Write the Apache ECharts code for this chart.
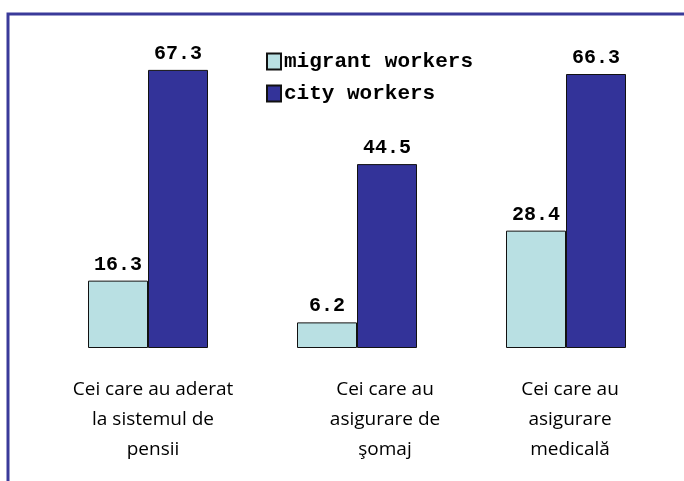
<!DOCTYPE html>
<html>
<head>
<meta charset="utf-8">
<script src="https://cdn.jsdelivr.net/npm/echarts@6/dist/echarts.min.js"></script>
<style>
  html, body { margin: 0; padding: 0; background: #fff; }
  #main { width: 684px; height: 481px; }
</style>
</head>
<body>
<div id="main"></div>
<script>
var categories = ['Cei care au aderat\nla sistemul de\npensii', 'Cei care au\nasigurare de\nşomaj', 'Cei care au\nasigurare\nmedicală'];
var migrantWorkers = [16.3, 6.2, 28.4];
var cityWorkers = [67.3, 44.5, 66.3];

var chart = echarts.init(document.getElementById('main'));

// eticheta din mijloc e mutata putin la dreapta, ca in original
var labelStyles = ['c0', 'c1', 'c2'];

var option = {
  animation: false,
  backgroundColor: '#fff',
  graphic: [{
    type: 'rect',
    shape: { x: 8, y: 14, width: 700, height: 500 },
    style: { fill: 'none', stroke: '#3a3a9a', lineWidth: 3 },
    silent: true
  }],
  legend: {
    orient: 'vertical',
    left: 261,
    top: 46,
    icon: 'rect',
    itemWidth: 14,
    itemHeight: 16,
    itemGap: 11,
    textStyle: { fontFamily: 'Liberation Mono', fontWeight: 'bold', fontSize: 21, color: '#000', padding: [0, 0, 0, -2] },
    data: ['migrant workers', 'city workers']
  },
  grid: { left: 43.5, right: 13.5, top: 17.4, bottom: 133 },
  xAxis: {
    type: 'category',
    data: categories,
    axisLine: { show: false },
    axisTick: { show: false },
    axisLabel: {
      margin: 27,
      interval: 0,
      formatter: function (value, idx) {
        return value.split('\n').map(function (s) {
          return '{' + labelStyles[idx] + '|' + s + '}';
        }).join('\n');
      },
      rich: {
        c0: { fontFamily: 'Open Sans', fontSize: 19, color: '#000', lineHeight: 30, padding: [0, 0, 0, 10] },
        c1: { fontFamily: 'Open Sans', fontSize: 19, color: '#000', lineHeight: 30, padding: [0, 0, 0, 56] },
        c2: { fontFamily: 'Open Sans', fontSize: 19, color: '#000', lineHeight: 30, padding: [0, 0, 0, 8] }
      }
    }
  },
  yAxis: {
    type: 'value',
    min: 0,
    max: 80,
    show: false,
    splitLine: { show: false }
  },
  series: [{
    name: 'migrant workers',
    type: 'bar',
    data: migrantWorkers,
    barWidth: 60,
    barGap: '0%',
    itemStyle: { color: '#b9e0e3', borderColor: '#111', borderWidth: 1 },
    label: {
      show: true, position: 'top', distance: 6,
      fontFamily: 'Liberation Mono', fontWeight: 'bold', fontSize: 20, color: '#000'
    }
  }, {
    name: 'city workers',
    type: 'bar',
    data: cityWorkers,
    barWidth: 60,
    itemStyle: { color: '#333399', borderColor: '#111', borderWidth: 1 },
    label: {
      show: true, position: 'top', distance: 6,
      fontFamily: 'Liberation Mono', fontWeight: 'bold', fontSize: 20, color: '#000'
    }
  }]
};

chart.setOption(option);
</script>
</body>
</html>
